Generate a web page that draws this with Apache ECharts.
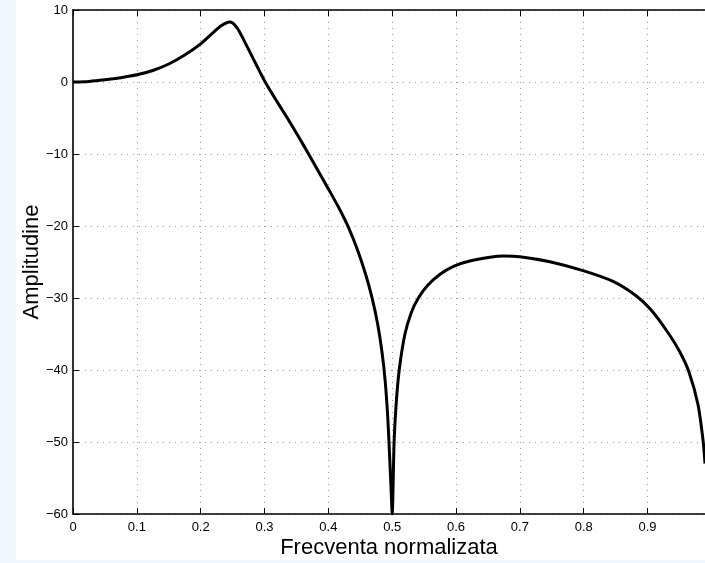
<!DOCTYPE html>
<html>
<head>
<meta charset="utf-8">
<title>Amplitudine</title>
<script src="https://cdn.jsdelivr.net/npm/echarts@6/dist/echarts.min.js"></script>
<style>
  html, body { margin: 0; padding: 0; background: #f1f7fe; }
  #chart { position: absolute; left: 16px; top: 0; width: 689px; height: 560px; background: #ffffff; }
</style>
</head>
<body>
<div id="chart"></div>
<script>
// Normalised frequency (x) and amplitude in dB (y) of the response curve
const freq = [
  0.000, 0.025, 0.050, 0.075, 0.100, 0.125, 0.150, 0.175, 0.200, 0.220,
  0.232, 0.245, 0.250, 0.258, 0.266, 0.274, 0.283, 0.292, 0.301, 0.318,
  0.335, 0.352, 0.369, 0.385, 0.401, 0.416, 0.431, 0.446, 0.458, 0.468,
  0.477, 0.484, 0.489, 0.493, 0.496, 0.4985, 0.500, 0.503, 0.506, 0.511,
  0.520, 0.530, 0.541, 0.556, 0.575, 0.596, 0.620, 0.653, 0.674, 0.700,
  0.747, 0.799, 0.846, 0.883, 0.905, 0.930, 0.950, 0.965, 0.979, 0.987,
  0.990
];
const amplitude = [
  0.0, 0.08, 0.3, 0.6, 1.0, 1.6, 2.5, 3.75, 5.3, 6.9,
  7.8, 8.35, 8.2, 7.4, 6.1, 4.7, 3.1, 1.55, 0.0, -2.5,
  -4.9, -7.4, -10.0, -12.5, -15.0, -17.4, -20.1, -23.4, -26.6, -29.8,
  -33.5, -37.5, -41.5, -46.5, -52.0, -57.0, -60.0, -50.0, -45.0, -40.0,
  -35.0, -32.0, -30.0, -28.2, -26.7, -25.6, -24.9, -24.35, -24.17, -24.26,
  -24.96, -26.2, -27.7, -29.75, -31.6, -34.55, -37.4, -40.3, -44.8, -49.8,
  -53.0
];
// Axis ranges and tick steps
const xRange = [0, 0.99];
const xStep = 0.1;
const yRange = [-60, 10];
const yStep = 10;
const xTitle = 'Frecventa normalizata';
const yTitle = 'Amplitudine';

const points = freq.map((f, i) => [f, amplitude[i]]);
const font = '"Liberation Sans", Arial, Helvetica, sans-serif';
const gridDots = { color: '#9a9a9a', width: 1, type: [1, 5] };

// Black box edges with short ticks pointing into the plot area
function frameLine() { return { show: true, onZero: false, lineStyle: { color: '#000', width: 1.6 } }; }
function innerTicks() { return { show: true, inside: true, length: 6, lineStyle: { color: '#000', width: 1 } }; }

const chart = echarts.init(document.getElementById('chart'), null, { renderer: 'canvas' });
chart.setOption({
  animation: false,
  backgroundColor: '#ffffff',
  grid: {
    left: 57, top: 10, bottom: 46, right: 0,
    containLabel: false,
    outerBounds: { left: -300, top: -300, right: -300, bottom: -300 }
  },
  xAxis: [
    {
      type: 'value', position: 'bottom',
      min: xRange[0], max: xRange[1], interval: xStep,
      axisLine: frameLine(),
      axisTick: innerTicks(),
      axisLabel: {
        color: '#000', fontFamily: font, fontSize: 13, margin: 7,
        showMaxLabel: false,
        formatter: v => (v === 0 ? '0' : v.toFixed(1))
      },
      splitLine: { show: true, lineStyle: gridDots },
      name: xTitle, nameLocation: 'middle', nameGap: 23, nameMoveOverlap: false,
      nameTextStyle: { color: '#000', fontFamily: font, fontSize: 22 }
    },
    {
      type: 'value', position: 'top',
      min: xRange[0], max: xRange[1], interval: xStep,
      axisLine: frameLine(),
      axisTick: innerTicks(),
      axisLabel: { show: false },
      splitLine: { show: false }
    }
  ],
  yAxis: {
    type: 'value',
    min: yRange[0], max: yRange[1], interval: yStep,
    axisLine: frameLine(),
    axisTick: innerTicks(),
    axisLabel: {
      color: '#000', fontFamily: font, fontSize: 13, margin: 5,
      formatter: v => String(v).replace('-', '\u2212')
    },
    splitLine: { show: true, lineStyle: gridDots },
    name: yTitle, nameLocation: 'middle', nameGap: 30, nameMoveOverlap: false,
    nameTextStyle: { color: '#000', fontFamily: font, fontSize: 22 }
  },
  series: [{
    type: 'line',
    xAxisIndex: 0,
    data: points,
    showSymbol: false,
    smooth: 0.25,
    clip: true,
    lineStyle: { color: '#000', width: 3 }
  }]
});
</script>
</body>
</html>
